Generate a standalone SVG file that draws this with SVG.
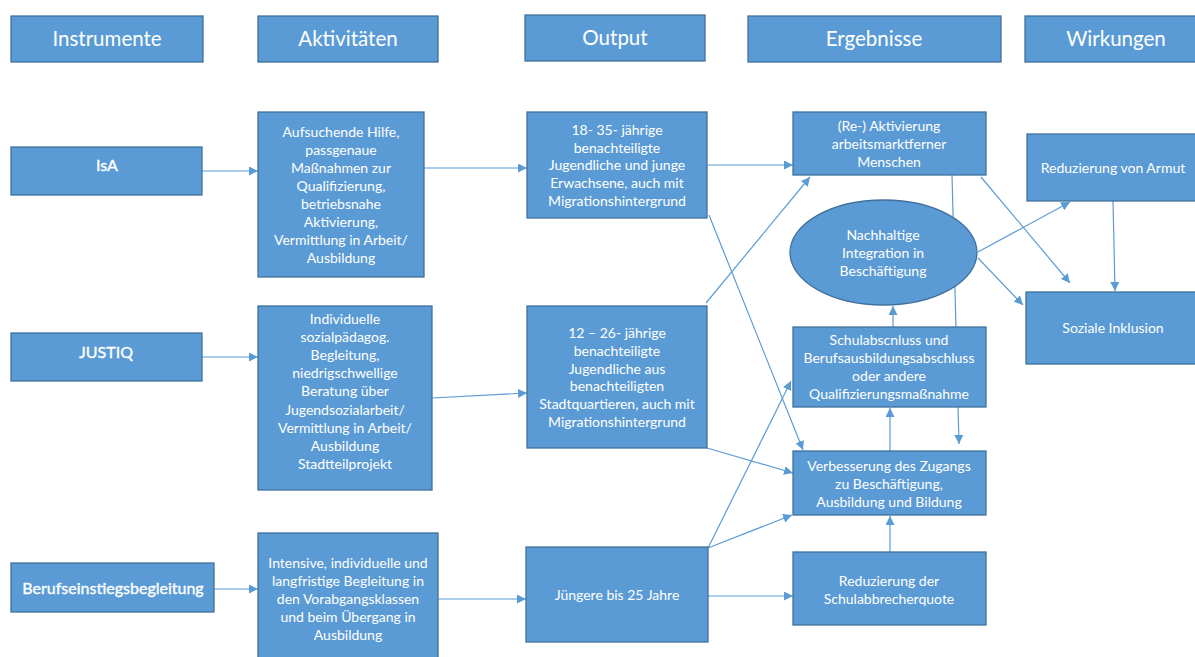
<svg xmlns="http://www.w3.org/2000/svg" width="1195" height="657" viewBox="0 0 1195 657">
<defs>
<marker id="ah" viewBox="0 0 10 10" refX="10" refY="5" markerWidth="9" markerHeight="9" markerUnits="userSpaceOnUse" orient="auto">
<path d="M0,0 L10,5 L0,10 z" fill="#5B9BD5"/>
</marker>
<style>
.n{fill:#5B9BD5;stroke:#41719C;stroke-width:1.3}
.t{font-family:Lato,"Open Sans","Liberation Sans",sans-serif;fill:#fff;text-anchor:middle;font-size:14px}
.h{font-size:20.5px}
.i{font-size:16px;stroke:#fff;stroke-width:0.35}
.c{stroke:#5B9BD5;stroke-width:1.2;fill:none;marker-end:url(#ah)}
</style>
</defs>
<rect width="1195" height="657" fill="#fff"/>
<g id="connectors">
<line class="c" x1="202" y1="171" x2="258" y2="171"/>
<line class="c" x1="424" y1="168" x2="527" y2="168"/>
<line class="c" x1="707" y1="165" x2="793" y2="165"/>
<line class="c" x1="202" y1="357" x2="258" y2="357"/>
<line class="c" x1="432" y1="398" x2="527" y2="393"/>
<line class="c" x1="214" y1="589" x2="258" y2="589"/>
<line class="c" x1="438" y1="599" x2="526" y2="599"/>
<line class="c" x1="708" y1="596" x2="793" y2="596"/>
<line class="c" x1="708" y1="548" x2="792" y2="515"/>
<line class="c" x1="708" y1="548" x2="791" y2="381"/>
<line class="c" x1="707" y1="448" x2="793" y2="473"/>
<line class="c" x1="709" y1="215" x2="803" y2="450"/>
<line class="c" x1="706" y1="303" x2="810" y2="177"/>
<line class="c" x1="952" y1="175" x2="959" y2="444"/>
<line class="c" x1="893" y1="327" x2="893" y2="306"/>
<line class="c" x1="890" y1="451" x2="890" y2="408"/>
<line class="c" x1="890" y1="552" x2="890" y2="516"/>
<line class="c" x1="978" y1="252" x2="1070" y2="202"/>
<line class="c" x1="978" y1="258" x2="1023" y2="305"/>
<line class="c" x1="981" y1="177" x2="1070" y2="283"/>
<line class="c" x1="1113" y1="201" x2="1115" y2="291"/>
</g>
<g id="h-instrumente"><rect class="n" x="11" y="16" width="192" height="46"/><text class="t h" x="107" y="46">Instrumente</text></g>
<g id="h-aktivitaeten"><rect class="n" x="258" y="16" width="180" height="46"/><text class="t h" x="348" y="46">Aktivitäten</text></g>
<g id="h-output"><rect class="n" x="525" y="15" width="180" height="46"/><text class="t h" x="615" y="45">Output</text></g>
<g id="h-ergebnisse"><rect class="n" x="748" y="16" width="253" height="46"/><text class="t h" x="874" y="46">Ergebnisse</text></g>
<g id="h-wirkungen"><rect class="n" x="1025" y="16" width="175" height="46"/><text class="t h" x="1116" y="46">Wirkungen</text></g>

<g id="isa"><rect class="n" x="11" y="147" width="191" height="48"/><text class="t i" x="107" y="171">IsA</text></g>
<g id="justiq"><rect class="n" x="11" y="333" width="191" height="48"/><text class="t i" x="106" y="358">JUSTIQ</text></g>
<g id="berufseinstieg"><rect class="n" x="11" y="563" width="203" height="49"/><text class="t i" x="113" y="594">Berufseinstiegsbegleitung</text></g>

<g id="a1"><rect class="n" x="258" y="112" width="166" height="165"/>
<text class="t" x="341" y="137">Aufsuchende Hilfe,<tspan x="341" dy="18">passgenaue</tspan><tspan x="341" dy="18">Maßnahmen zur</tspan><tspan x="341" dy="18">Qualifizierung,</tspan><tspan x="341" dy="18">betriebsnahe</tspan><tspan x="341" dy="18">Aktivierung,</tspan><tspan x="341" dy="18">Vermittlung in Arbeit/</tspan><tspan x="341" dy="18">Ausbildung</tspan></text></g>
<g id="a2"><rect class="n" x="258" y="306" width="174" height="184"/>
<text class="t" x="345" y="324">Individuelle<tspan x="345" dy="18.1">sozialpädagog.</tspan><tspan x="345" dy="18.1">Begleitung,</tspan><tspan x="345" dy="18.1">niedrigschwellige</tspan><tspan x="345" dy="18.1">Beratung über</tspan><tspan x="345" dy="18.1">Jugendsozialarbeit/</tspan><tspan x="345" dy="18.1">Vermittlung in Arbeit/</tspan><tspan x="345" dy="18.1">Ausbildung</tspan><tspan x="345" dy="18.1">Stadtteilprojekt</tspan></text></g>
<g id="a3"><rect class="n" x="258" y="533" width="180" height="130"/>
<text class="t" x="348" y="568">Intensive, individuelle und<tspan x="348" dy="18">langfristige Begleitung  in</tspan><tspan x="348" dy="18">den Vorabgangsklassen</tspan><tspan x="348" dy="18">und beim Übergang in</tspan><tspan x="348" dy="18">Ausbildung</tspan></text></g>

<g id="o1"><rect class="n" x="527" y="112" width="180" height="106"/>
<text class="t" x="617" y="135">18- 35- jährige<tspan x="617" dy="17.7">benachteiligte</tspan><tspan x="617" dy="17.7">Jugendliche und junge</tspan><tspan x="617" dy="17.7">Erwachsene, auch mit</tspan><tspan x="617" dy="17.7">Migrationshintergrund</tspan></text></g>
<g id="o2"><rect class="n" x="527" y="306" width="180" height="142"/>
<text class="t" x="617" y="338">12 – 26- jährige<tspan x="617" dy="17.8">benachteiligte</tspan><tspan x="617" dy="17.8">Jugendliche aus</tspan><tspan x="617" dy="17.8">benachteiligten</tspan><tspan x="617" dy="17.8">Stadtquartieren, auch mit</tspan><tspan x="617" dy="17.8">Migrationshintergrund</tspan></text></g>
<g id="o3"><rect class="n" x="526" y="547" width="182" height="95"/>
<text class="t" x="617" y="600">Jüngere bis 25 Jahre</text></g>

<g id="e1"><rect class="n" x="793" y="112" width="193" height="63"/>
<text class="t" x="889" y="131">(Re-) Aktivierung<tspan x="889" dy="18">arbeitsmarktferner</tspan><tspan x="889" dy="18">Menschen</tspan></text></g>
<g id="ellipse"><ellipse class="n" cx="883.5" cy="252.5" rx="93.5" ry="52.5"/>
<text class="t" x="883" y="240">Nachhaltige<tspan x="883" dy="18">Integration in</tspan><tspan x="883" dy="18">Beschäftigung</tspan></text></g>
<g id="e2"><rect class="n" x="793" y="327" width="193" height="80"/>
<text class="t" x="889" y="345">Schulabscnluss und<tspan x="889" dy="18">Berufsausbildungsabschluss</tspan><tspan x="889" dy="18">oder andere</tspan><tspan x="889" dy="18">Qualifizierungsmaßnahme</tspan></text></g>
<g id="e3"><rect class="n" x="793" y="451" width="193" height="64"/>
<text class="t" x="889" y="471">Verbesserung des Zugangs<tspan x="889" dy="18">zu Beschäftigung,</tspan><tspan x="889" dy="18">Ausbildung und Bildung</tspan></text></g>
<g id="e4"><rect class="n" x="793" y="552" width="193" height="73"/>
<text class="t" x="889" y="586">Reduzierung der<tspan x="889" dy="18">Schulabbrecherquote</tspan></text></g>

<g id="armut"><rect class="n" x="1027" y="134" width="175" height="67"/>
<text class="t" x="1113" y="173">Reduzierung von Armut</text></g>
<g id="inklusion"><rect class="n" x="1026" y="292" width="175" height="72"/>
<text class="t" x="1113" y="333">Soziale Inklusion</text></g>
</svg>
